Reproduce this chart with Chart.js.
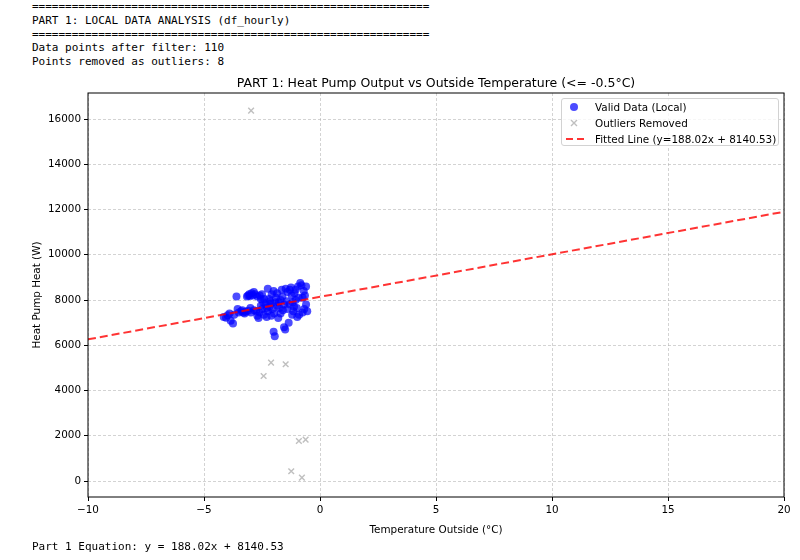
<!DOCTYPE html>
<html>
<head>
<meta charset="utf-8">
<title>Heat Pump Output vs Outside Temperature</title>
<script src="https://cdn.jsdelivr.net/npm/chart.js@4.4.1/dist/chart.umd.min.js"></script>
<style>
    html, body { margin: 0; padding: 0; background: #fff; }
    body { width: 800px; height: 560px; position: relative; overflow: hidden; font-family: "DejaVu Sans", sans-serif; }
    #wrap { position: absolute; left: 0; top: 0; width: 800px; height: 560px; }
    .console { position: absolute; left: 32px; margin: 0; font: 11px/13.8px "DejaVu Sans Mono", monospace; color: #000; white-space: pre; }
    #legend { position: absolute; left: 561px; top: 98px; width: 218px; height: 48px; box-sizing: border-box;
              border: 1px solid #d2d2d2; border-radius: 3px; background: rgba(255,255,255,0.8); font-size: 10.4px; color: #000; }
    #legend .row { position: absolute; left: 0; height: 14px; line-height: 14px; white-space: nowrap; }
    #legend svg { position: absolute; left: 2px; top: 0; }
    #legend span { position: absolute; left: 33px; top: 0; }
</style>
</head>
<body>
<pre class="console" style="top:0">============================================================
PART 1: LOCAL DATA ANALYSIS (df_hourly)
============================================================
Data points after filter: 110
Points removed as outliers: 8</pre>

<div id="wrap"><canvas id="heatChart" width="800" height="560"></canvas></div>

<div id="legend">
    <div class="row" style="top:1px">
        <svg width="22" height="14"><circle cx="10" cy="7" r="4" fill="rgba(0,0,255,0.7)"/></svg>
        <span>Valid Data (Local)</span>
    </div>
    <div class="row" style="top:17px">
        <svg width="22" height="14"><path d="M7 4 L13 10 M13 4 L7 10" stroke="rgba(128,128,128,0.5)" stroke-width="1.4"/></svg>
        <span>Outliers Removed</span>
    </div>
    <div class="row" style="top:33px">
        <svg width="22" height="14"><line x1="2" y1="7" x2="21" y2="7" stroke="rgba(255,0,0,0.8)" stroke-width="2" stroke-dasharray="7,4"/></svg>
        <span>Fitted Line (y=188.02x + 8140.53)</span>
    </div>
</div>

<pre class="console" style="top:540px">Part 1 Equation: y = 188.02x + 8140.53</pre>

<script>
// valid hourly points (temperature <= -0.5 °C, outliers taken out)
const validTemp = [
    -4.15, -4.05, -3.98, -3.9, -3.85, -3.75, -3.7, -3.6, -3.55, -3.5,
    -3.4, -3.35, -3.25, -3.2, -3.15, -3.1, -3.05, -3.0, -2.95, -3.3, -3.1, -2.98, -3.02, -2.9,
    -2.85, -2.8, -2.75, -2.7, -2.65, -2.6, -2.55, -2.5, -2.45, -2.4, -2.85, -2.7, -2.6, -2.5, -2.42, -2.55,
    -2.35, -2.3, -2.25, -2.2, -2.15, -2.1, -2.05, -2.0, -1.95, -2.0, -1.92, -2.3, -2.18, -2.12, -2.08, -1.98, -2.25, -1.9,
    -1.85, -1.8, -1.75, -1.7, -1.65, -1.6, -1.55, -1.5, -1.45, -1.4, -1.85, -1.78, -1.7, -1.62, -1.55, -1.48, -1.42, -1.35,
    -1.3, -1.25, -1.2, -1.15, -1.1, -1.05, -1.0, -0.95, -0.9, -1.3, -1.22, -1.12, -1.05, -0.98, -1.18, -0.92,
    -0.85, -0.8, -0.75, -0.7, -0.65, -0.6, -0.55, -0.6, -0.75, -0.68
];
const validHeat = [
    7250, 7220, 7330, 7400, 7080, 6960, 7350, 8150, 7600, 7450,
    7500, 7550, 7400, 7480, 8150, 8200, 8250, 7650, 8300, 7450, 7520, 7450, 8180, 8200,
    8350, 8250, 7500, 7300, 7200, 8200, 7750, 7600, 7900, 8050, 7550, 8150, 7450, 8250, 7350, 8050,
    7800, 7650, 8500, 8050, 7950, 7300, 7600, 6600, 6400, 8400, 7900, 7250, 7700, 7850, 8250, 7400, 7500, 8100,
    7750, 7200, 7650, 8000, 8450, 7550, 6800, 6700, 7950, 8350, 8300, 7900, 7400, 8150, 7800, 8500, 7600, 7000,
    8450, 8550, 7350, 7500, 8300, 8000, 7650, 8600, 7350, 7800, 8200, 7700, 8450, 7250, 7900, 8100,
    8750, 8650, 7450, 8400, 8200, 8600, 7500, 7800, 8100, 7600
];

// removed outliers
const outlierTemp = [-2.97, -2.11, -2.43, -1.48, -0.91, -0.62, -1.24, -0.78];
const outlierHeat = [16370, 5230, 4640, 5160, 1770, 1830, 430, 150];

// fitted line end points (y = 188.02x + 8140.53)
const fitTemp = [-10, 20];
const fitHeat = [6260.33, 11900.93];

// axes
const xTicks = [-10, -5, 0, 5, 10, 15, 20];
const yTicks = [0, 2000, 4000, 6000, 8000, 10000, 12000, 14000, 16000];
const xRange = [-10, 20];
const yRange = [-707, 17150];

const toPoints = (xs, ys) => xs.map((x, i) => ({ x: x, y: ys[i] }));

// matplotlib-like box round the axes
const frameBox = {
    id: "frameBox",
    afterDraw(chart) {
        const { ctx, chartArea: a } = chart;
        ctx.save();
        ctx.strokeStyle = "#000";
        ctx.lineWidth = 1;
        ctx.strokeRect(a.left, a.top, a.right - a.left, a.bottom - a.top);
        ctx.restore();
    }
};

const tickFont = { family: "'DejaVu Sans', sans-serif", size: 10.4 };

const gridOpts = {
    color: "rgba(176,176,176,0.7)",
    lineWidth: 0.8,
    drawTicks: true,
    tickLength: 4,
    tickColor: "#000",
    tickWidth: 1,
    tickBorderDash: []
};

new Chart(document.getElementById("heatChart").getContext("2d"), {
    type: "scatter",
    data: {
        datasets: [
            {
                label: "Fitted Line (y=188.02x + 8140.53)",
                type: "line",
                data: toPoints(fitTemp, fitHeat),
                borderColor: "rgba(255,0,0,0.8)",
                borderWidth: 2,
                borderDash: [8, 4],
                pointRadius: 0,
                fill: false,
                order: 0
            },
            {
                label: "Outliers Removed",
                data: toPoints(outlierTemp, outlierHeat),
                pointStyle: "crossRot",
                pointRadius: 4,
                borderColor: "rgba(128,128,128,0.5)",
                borderWidth: 1.4,
                order: 1
            },
            {
                label: "Valid Data (Local)",
                data: toPoints(validTemp, validHeat),
                pointStyle: "circle",
                pointRadius: 4,
                backgroundColor: "rgba(0,0,255,0.7)",
                borderWidth: 0,
                order: 2
            }
        ]
    },
    options: {
        responsive: false,
        animation: false,
        layout: { padding: { left: 25, right: 16, top: 0, bottom: 23 } },
        plugins: {
            legend: { display: false },
            tooltip: { enabled: false },
            title: {
                display: true,
                fullSize: false,
                text: "PART 1: Heat Pump Output vs Outside Temperature (<= -0.5°C)",
                color: "#000",
                font: { family: "'DejaVu Sans', sans-serif", size: 12.5, weight: "normal" },
                padding: { top: 76.5, bottom: 1.5 }
            }
        },
        scales: {
            x: {
                type: "linear",
                min: xRange[0],
                max: xRange[1],
                afterBuildTicks: (s) => { s.ticks = xTicks.map(v => ({ value: v })); },
                afterFit: (s) => { s.height = 40; },
                ticks: { color: "#000", font: tickFont, padding: 3, maxRotation: 0, callback: (v) => (v < 0 ? "\u2212" + Math.abs(v) : v) },
                grid: gridOpts,
                border: { display: false, dash: [3, 2] },
                title: {
                    display: true,
                    text: "Temperature Outside (°C)",
                    color: "#000",
                    font: tickFont,
                    padding: { top: 8, bottom: 0 }
                }
            },
            y: {
                type: "linear",
                min: yRange[0],
                max: yRange[1],
                afterBuildTicks: (s) => { s.ticks = yTicks.map(v => ({ value: v })); },
                afterFit: (s) => { s.width = 63; },
                ticks: { color: "#000", font: tickFont, padding: 3, callback: (v) => String(v) },
                grid: gridOpts,
                border: { display: false, dash: [3, 2] },
                title: {
                    display: true,
                    text: "Heat Pump Heat (W)",
                    color: "#000",
                    font: tickFont,
                    padding: { top: 6, bottom: 0 }
                }
            }
        }
    },
    plugins: [frameBox]
});
</script>
</body>
</html>
